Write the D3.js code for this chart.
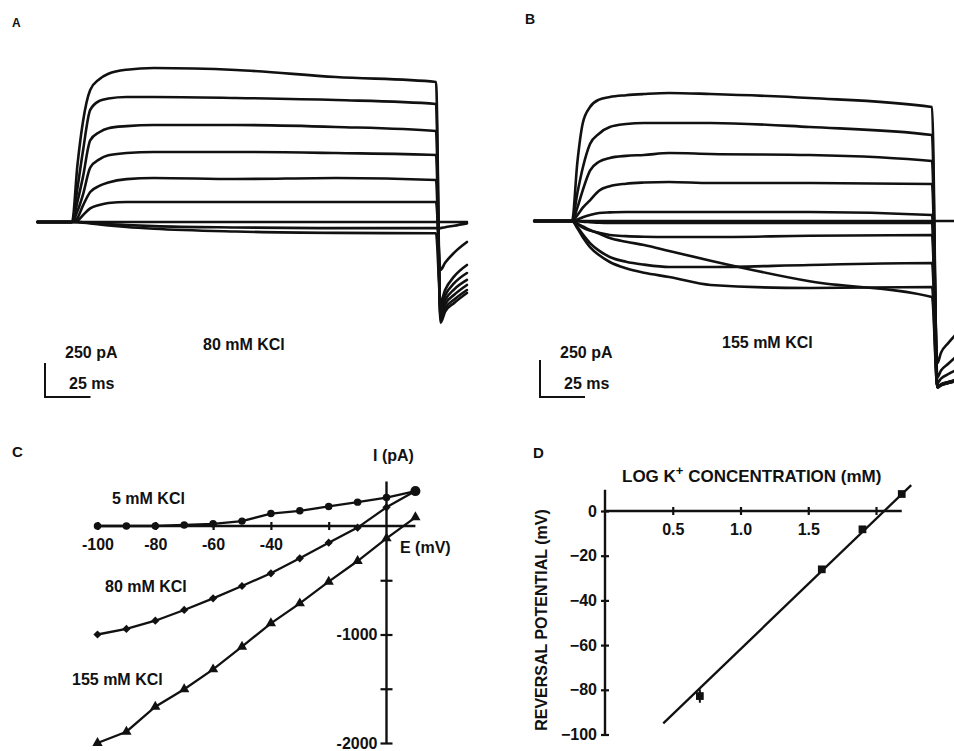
<!DOCTYPE html>
<html>
<head>
<meta charset="utf-8">
<script src="https://cdn.jsdelivr.net/npm/d3@7"></script>
<style>
  body { margin: 0; background: #fff; }
  svg text { font-family: "Liberation Sans", Arial, Helvetica, sans-serif; font-weight: bold; fill: #111; }
</style>
</head>
<body>
<svg id="fig" width="954" height="751"></svg>
<script>
// ---------- Panel A: currents in 80 mM KCl (time in ms, current in pA) ----------
const timeA = [-19, 0, 3, 6, 10, 15, 20, 30, 45, 90, 145, 200, 202.5, 205, 210, 217];
const tracesA = [
  [0, 0, 420, 735, 970, 1050, 1090, 1120, 1132, 1118, 1066, 1030, -740, -660, -595, -522],
  [0, 0, 250, 520, 824, 890, 908, 919, 919, 912, 897, 868, -715, -635, -570, -500],
  [0, 0, 150, 330, 600, 660, 690, 705, 713, 713, 699, 669, -690, -605, -535, -463],
  [0, 0, 80, 200, 400, 460, 490, 507, 515, 515, 507, 493, -660, -575, -495, -426],
  [0, 0, 30, 120, 220, 265, 290, 315, 324, 316, 324, 309, -625, -540, -450, -375],
  [0, 0, 10, 50, 100, 125, 140, 147, 147, 147, 147, 147, -353, -300, -225, -147],
  [0, 0, 0, 0, 0, 0, 0, 0, 0, 0, 0, 0, 0, 0, 0, 0],
  [0, 0, 0, -2, -5, -10, -15, -22, -30, -40, -45, -45, -45, -38, -27, -10],
  [0, 0, -2, -5, -10, -18, -25, -37, -50, -70, -80, -83, -590, -500, -400, -316]
];

// ---------- Panel B: currents in 155 mM KCl ----------
const timeB = [-21, 0, 3, 6, 10, 15, 21, 30, 40, 54, 77, 132, 200, 203, 205, 209, 213];
const tracesB = [
  [0, 0, 400, 662, 770, 820, 838, 850, 858, 865, 858, 831, 770, -1125, -1110, -1095, -1080],
  [0, 0, 190, 360, 520, 590, 635, 655, 662, 662, 662, 635, 581, -1095, -1065, -1035, -1010],
  [0, 0, 90, 209, 340, 400, 426, 440, 446, 459, 453, 446, 405, -1055, -1010, -965, -920],
  [0, 0, 40, 90, 140, 205, 235, 252, 260, 264, 257, 257, 250, -960, -890, -825, -770],
  [0, 0, 10, 25, 41, 54, 58, 61, 61, 61, 61, 61, 41, -1120, -1105, -1090, -1078],
  [0, 0, 0, 0, 0, 0, 0, 0, 0, 0, 0, 0, 0, 0, 0, 0, 0],
  [0, 0, -2, -5, -8, -12, -14, -14, -14, -14, -14, -14, -14, -1118, -1103, -1088, -1075],
  [0, 0, -20, -45, -65, -80, -95, -102, -106, -108, -108, -100, -95, -1120, -1105, -1090, -1078],
  [0, 0, -40, -90, -149, -200, -243, -275, -295, -311, -311, -297, -284, -1122, -1107, -1092, -1080],
  [0, 0, -50, -110, -176, -230, -277, -320, -350, -378, -432, -453, -446, -1124, -1109, -1094, -1082],
  [0, 0, -18, -36, -61, -85, -115, -140, -162, -202, -268, -407, -514, -1125, -1110, -1095, -1083]
];

// scale bars
const barCurrent = 250; // pA
const barTime = 25;     // ms

// ---------- Panel C: current-voltage relations ----------
const voltages = [-100, -90, -80, -70, -60, -50, -40, -30, -20, -10, 0, 10];
const iv5   = [0, 0, 0, 10, 20, 45, 115, 140, 180, 220, 262, 322];
const iv80  = [-1000, -949, -873, -774, -667, -553, -436, -298, -154, -15, 172, 322];
const iv155 = [-2000, -1896, -1665, -1505, -1321, -1112, -897, -713, -513, -323, -114, 80];
const ivLabels = ["5 mM KCl", "80 mM KCl", "155 mM KCl"];
const cTicksE = [-100, -80, -60, -40, -20];
const cTickLabelsE = [-100, -80, -60, -40];
const cTicksI = [-500, -1000, -1500, -2000];
const cTickLabelsI = [-1000, -2000];
const cAxisE = [-100, 10];
const cAxisI = [-2000, 410];

// ---------- Panel D: reversal potential vs log [K+] ----------
const logK = [0.70, 1.60, 1.90, 2.19];
const erev = [-82.8, -26.1, -8.2, 7.6];
const erevErr = [3, 0, 0, 0];
const fitLine = [[0.43, -95], [2.26, 11.6]];
const dTicksX = [0.5, 1.0, 1.5, 2.0];
const dTickLabelsX = ["0.5", "1.0", "1.5"];
const dTicksY = [0, -20, -40, -60, -80, -100];
const dAxisX = [0, 2.19];
const dAxisY = [-100, 9.5];

const ink = "#111";
const fs = "16px";
const svg = d3.select("#fig");

// panel letters
[["A", 12, 27, 12], ["B", 525, 24, 14], ["C", 12, 457, 15], ["D", 533, 458, 15]]
  .forEach(([t, x, y, s]) => svg.append("text").attr("x", x).attr("y", y).style("font-size", s + "px").text(t));

// ---------- current traces (A and B) ----------
function tracePanel(times, traces, x, y, bar, label) {
  const g = svg.append("g");
  const line = d3.line()
    .x((d, i) => x(times[i]))
    .y(d => y(d))
    .curve(d3.curveMonotoneX);
  g.selectAll("path.trace").data(traces).join("path")
    .attr("class", "trace")
    .attr("d", line)
    .attr("fill", "none")
    .attr("stroke", ink)
    .attr("stroke-width", 2.6)
    .attr("stroke-linejoin", "round")
    .attr("stroke-linecap", "round");

  // calibration bars
  const h = y(0) - y(barCurrent);
  const w = x(barTime) - x(0);
  g.append("path")
    .attr("d", `M${bar.x},${bar.y - h}V${bar.y}H${bar.x + w}`)
    .attr("fill", "none").attr("stroke", ink).attr("stroke-width", 2);
  g.append("text").attr("x", bar.x + 20).attr("y", bar.y - 39).style("font-size", fs).text(barCurrent + " pA");
  g.append("text").attr("x", bar.x + 24).attr("y", bar.y - 8).style("font-size", fs).text(barTime + " ms");
  g.append("text").attr("x", label.x).attr("y", label.y).style("font-size", fs).text(label.text);
}

const xA = d3.scaleLinear().domain([0, 200]).range([72, 436]);
const yA = d3.scaleLinear().domain([0, 250]).range([222, 188]);
tracePanel(timeA, tracesA, xA, yA, { x: 45, y: 397 }, { x: 203, y: 350, text: "80 mM KCl" });

const xB = d3.scaleLinear().domain([0, 200]).range([572, 932]);
const yB = d3.scaleLinear().domain([0, 250]).range([221, 184]);
tracePanel(timeB, tracesB, xB, yB, { x: 540, y: 397 }, { x: 722, y: 348, text: "155 mM KCl" });

// ---------- Panel C ----------
const xC = d3.scaleLinear().domain([-100, 0]).range([97.5, 386.5]);
const yC = d3.scaleLinear().domain([0, -2000]).range([526, 743]);
const gC = svg.append("g");

gC.append("line")
  .attr("x1", xC(cAxisE[0])).attr("x2", xC(cAxisE[1]))
  .attr("y1", yC(0)).attr("y2", yC(0))
  .attr("stroke", ink).attr("stroke-width", 2.4);
gC.append("line")
  .attr("x1", xC(0)).attr("x2", xC(0))
  .attr("y1", yC(cAxisI[0])).attr("y2", yC(cAxisI[1]))
  .attr("stroke", ink).attr("stroke-width", 2.4);

const axCx = gC.append("g").attr("transform", `translate(0,${yC(0)})`)
  .call(d3.axisBottom(xC).tickValues(cTicksE).tickSizeOuter(0)
    .tickFormat(d => cTickLabelsE.includes(d) ? d : ""));
const axCy = gC.append("g").attr("transform", `translate(${xC(0)},0)`)
  .call(d3.axisLeft(yC).tickValues(cTicksI).tickSizeOuter(0)
    .tickFormat(d => cTickLabelsI.includes(d) ? d : ""));
[axCx, axCy].forEach(a => { a.select(".domain").remove(); a.attr("font-family", null).attr("font-size", null); });
axCx.selectAll(".tick line").attr("y1", -4).attr("y2", 4).attr("stroke", ink).attr("stroke-width", 2.2);
axCx.selectAll(".tick text").attr("y", 13).style("font-size", fs);
axCy.selectAll(".tick line").attr("x1", -6).attr("x2", 6).attr("stroke", ink).attr("stroke-width", 2.2);
axCy.selectAll(".tick text").attr("x", -9).style("font-size", fs);

gC.append("text").attr("x", 373).attr("y", 461).style("font-size", fs).text("I (pA)");
gC.append("text").attr("x", 400).attr("y", 553).style("font-size", fs).text("E (mV)");

const ivLine = d3.line().x((d, i) => xC(voltages[i])).y(d => yC(d));
const ivSeries = [
  { vals: iv155, sym: d3.symbolTriangle, size: 46, rot: 0 },
  { vals: iv80, sym: d3.symbolSquare, size: 34, rot: 45 },
  { vals: iv5, sym: d3.symbolCircle, size: 44, rot: 0 }
];
ivSeries.forEach(s => {
  gC.append("path").attr("d", ivLine(s.vals)).attr("fill", "none")
    .attr("stroke", ink).attr("stroke-width", 2.3);
  gC.selectAll(null).data(s.vals).join("path")
    .attr("transform", (d, i) => `translate(${xC(voltages[i])},${yC(d)}) rotate(${s.rot})`)
    .attr("d", (d, i) => d3.symbol(s.sym, (s.vals === iv5 && i === s.vals.length - 1) ? 80 : s.size)())
    .attr("fill", ink);
});
[[112, 504], [105, 592], [72, 685]].forEach(([x, y], i) =>
  gC.append("text").attr("x", x).attr("y", y).style("font-size", fs).text(ivLabels[i]));

// ---------- Panel D ----------
const xD = d3.scaleLinear().domain([0, 2]).range([605, 876]);
const yD = d3.scaleLinear().domain([0, -100]).range([511, 734.5]);
const gD = svg.append("g");

gD.append("line")
  .attr("x1", xD(dAxisX[0])).attr("x2", xD(dAxisX[1]))
  .attr("y1", yD(0)).attr("y2", yD(0))
  .attr("stroke", ink).attr("stroke-width", 2.4);
gD.append("line")
  .attr("x1", xD(0)).attr("x2", xD(0))
  .attr("y1", yD(dAxisY[0])).attr("y2", yD(dAxisY[1]))
  .attr("stroke", ink).attr("stroke-width", 2.4);

const axDx = gD.append("g").attr("transform", `translate(0,${yD(0)})`)
  .call(d3.axisBottom(xD).tickValues(dTicksX).tickSizeOuter(0)
    .tickFormat((d, i) => dTickLabelsX[i] || ""));
const axDy = gD.append("g").attr("transform", `translate(${xD(0)},0)`)
  .call(d3.axisLeft(yD).tickValues(dTicksY).tickSizeOuter(0).tickFormat(d3.format("d")));
[axDx, axDy].forEach(a => { a.select(".domain").remove(); a.attr("font-family", null).attr("font-size", null); });
axDx.selectAll(".tick line").attr("y1", -4).attr("y2", 4).attr("stroke", ink).attr("stroke-width", 2.2);
axDx.selectAll(".tick text").attr("y", 13).style("font-size", fs);
axDy.selectAll(".tick line").attr("x1", -4).attr("x2", 4).attr("stroke", ink).attr("stroke-width", 2.2);
axDy.selectAll(".tick text").attr("x", -8).style("font-size", fs);

const title = gD.append("text").attr("x", 622).attr("y", 482).style("font-size", "17px");
title.append("tspan").text("LOG K");
title.append("tspan").attr("dy", -7).style("font-size", "13px").text("+");
title.append("tspan").attr("dy", 7).text(" CONCENTRATION (mM)");

gD.append("text")
  .attr("transform", "translate(547,620) rotate(-90)")
  .attr("text-anchor", "middle").style("font-size", fs)
  .text("REVERSAL POTENTIAL (mV)");

gD.append("path")
  .attr("d", d3.line().x(d => xD(d[0])).y(d => yD(d[1]))(fitLine))
  .attr("stroke", ink).attr("stroke-width", 2.3).attr("fill", "none");

gD.selectAll("line.err").data(logK.filter((d, i) => erevErr[i] > 0).map((d, j) => j)).join("line")
  .attr("class", "err")
  .attr("x1", xD(logK[0])).attr("x2", xD(logK[0]))
  .attr("y1", yD(erev[0] + erevErr[0])).attr("y2", yD(erev[0] - erevErr[0]))
  .attr("stroke", ink).attr("stroke-width", 2);
gD.selectAll("path.pt").data(erev).join("path")
  .attr("class", "pt")
  .attr("transform", (d, i) => `translate(${xD(logK[i])},${yD(d)})`)
  .attr("d", d3.symbol(d3.symbolSquare, 60)())
  .attr("fill", ink);
</script>
</body>
</html>
